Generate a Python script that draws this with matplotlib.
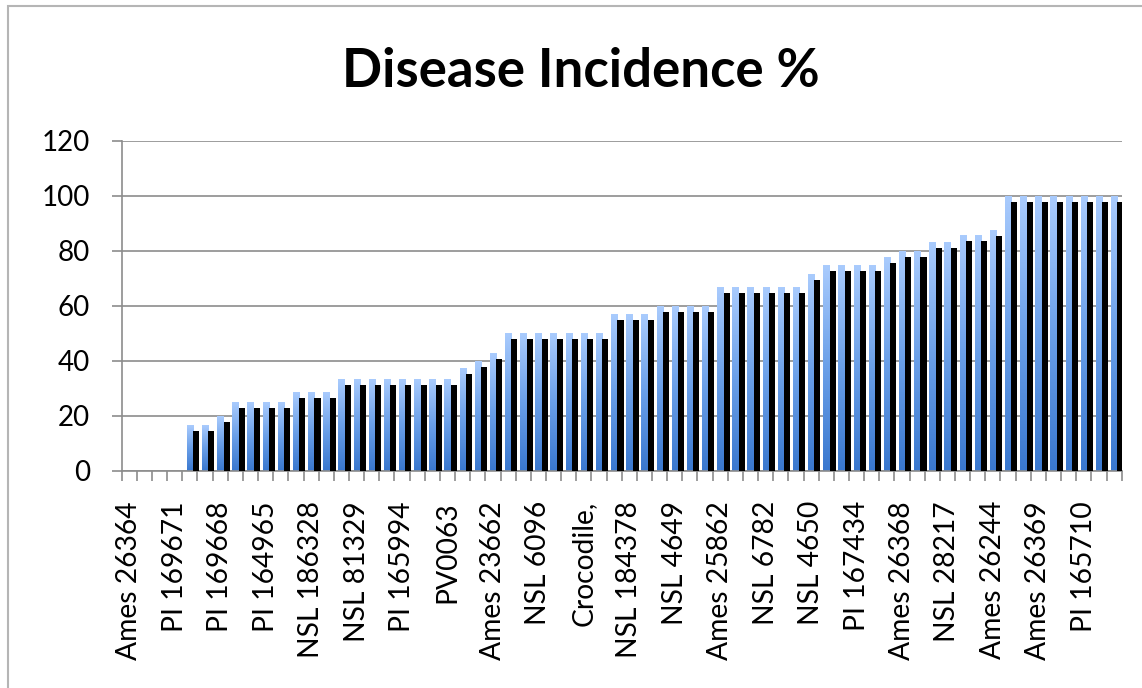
import numpy as np
import matplotlib
matplotlib.use('Agg')
import matplotlib.pyplot as plt
from matplotlib.patches import Rectangle

plt.rcParams['font.family'] = ['Lato', 'DejaVu Sans']

# Disease incidence per accession (66 accessions, only every 3rd labelled)
incidence = [0, 0, 0, 0, 16.7, 16.7, 20, 25, 25, 25, 25, 28.6, 28.6, 28.6,
             33.3, 33.3, 33.3, 33.3, 33.3, 33.3, 33.3, 33.3, 37.5, 40, 42.9,
             50, 50, 50, 50, 50, 50, 50, 57.1, 57.1, 57.1, 60, 60, 60, 60,
             66.7, 66.7, 66.7, 66.7, 66.7, 66.7, 71.4, 75, 75, 75, 75, 77.8,
             80, 80, 83.3, 83.3, 85.7, 85.7, 87.5,
             100, 100, 100, 100, 100, 100, 100, 100]
shadow = [0, 0, 0, 0, 14.5, 14.5, 17.8, 22.8, 22.8, 22.8, 22.8, 26.4, 26.4, 26.4,
          31.1, 31.1, 31.1, 31.1, 31.1, 31.1, 31.1, 31.1, 35.3, 37.8, 40.7,
          47.8, 47.8, 47.8, 47.8, 47.8, 47.8, 47.8, 54.9, 54.9, 54.9, 57.8, 57.8, 57.8, 57.8,
          64.5, 64.5, 64.5, 64.5, 64.5, 64.5, 69.2, 72.8, 72.8, 72.8, 72.8, 75.6,
          77.8, 77.8, 81.1, 81.1, 83.5, 83.5, 85.3,
          97.8, 97.8, 97.8, 97.8, 97.8, 97.8, 97.8, 97.8]
tick_labels = ["Ames 26364", "PI 169671", "PI 169668", "PI 164965", "NSL 186328",
               "NSL 81329", "PI 165994", "PV0063", "Ames 23662", "NSL 6096",
               "Crocodile,", "NSL 184378", "NSL 4649", "Ames 25862", "NSL 6782",
               "NSL 4650", "PI 167434", "Ames 26368", "NSL 28217", "Ames 26244",
               "Ames 26369", "PI 165710"]
yticks = [0, 20, 40, 60, 80, 100, 120]

n = len(incidence)
x = np.arange(n)
grey = '#8c8c8c'

fig = plt.figure(figsize=(11.42, 6.88), dpi=100)
ax = fig.add_axes([0.1066, 0.3161, 0.8756, 0.4790])

# blauwe balken met verloop, zwarte "schaduw" rechts ernaast
blue_bars = ax.bar(x + 0.30, incidence, width=0.42, align='edge',
                   color='#6fa3ea', linewidth=0, zorder=2)
ax.bar(x + 0.72, shadow, width=0.40, align='edge', color='black',
       linewidth=0, zorder=3)

grad = np.linspace(0, 1, 100).reshape(-1, 1)
cmap = matplotlib.colors.LinearSegmentedColormap.from_list(
    'bl', ['#3a78cf', '#6a9fe8', '#a9cbfd'])
for b in blue_bars:
    h = b.get_height()
    if h <= 0:
        continue
    x0 = b.get_x()
    im = ax.imshow(grad, cmap=cmap, origin='lower', aspect='auto',
                   extent=[x0, x0 + b.get_width(), 0, h], zorder=2.5)
    im.set_clip_path(b)

ax.set_xlim(0, n)
ax.set_ylim(0, 120)

ax.set_yticks(yticks)
ax.yaxis.grid(True, color=grey, linewidth=1.2)
ax.set_axisbelow(True)
ax.tick_params(axis='y', length=7, width=1.2, color=grey, pad=16,
               labelsize=20)

# streepjes op elke grens, labels op elke derde categorie
ax.set_xticks(np.arange(0, n + 1), minor=True)
ax.set_xticks(x[::3] + 0.5)
ax.set_xticklabels(tick_labels, rotation=90, fontsize=20.3)
ax.tick_params(axis='x', which='major', length=0, pad=22)
ax.tick_params(axis='x', which='minor', length=7, width=1.2, color=grey)

for s in ['top', 'right']:
    ax.spines[s].set_visible(False)
for s in ['left', 'bottom']:
    ax.spines[s].set_color(grey)
    ax.spines[s].set_linewidth(1.2)

fig.text(0.509, 0.874, 'Disease Incidence %', ha='center', va='baseline',
         fontsize=38, fontweight='bold')

# grijze kader rond de grafiek
fig.patches.append(Rectangle((8 / 1142, -0.1), 1.2, 0.1 + 682 / 688,
                             transform=fig.transFigure, fill=False,
                             edgecolor='#b5b5b5', linewidth=1.5))

fig.savefig('out.png', dpi=100)
plt.close()
